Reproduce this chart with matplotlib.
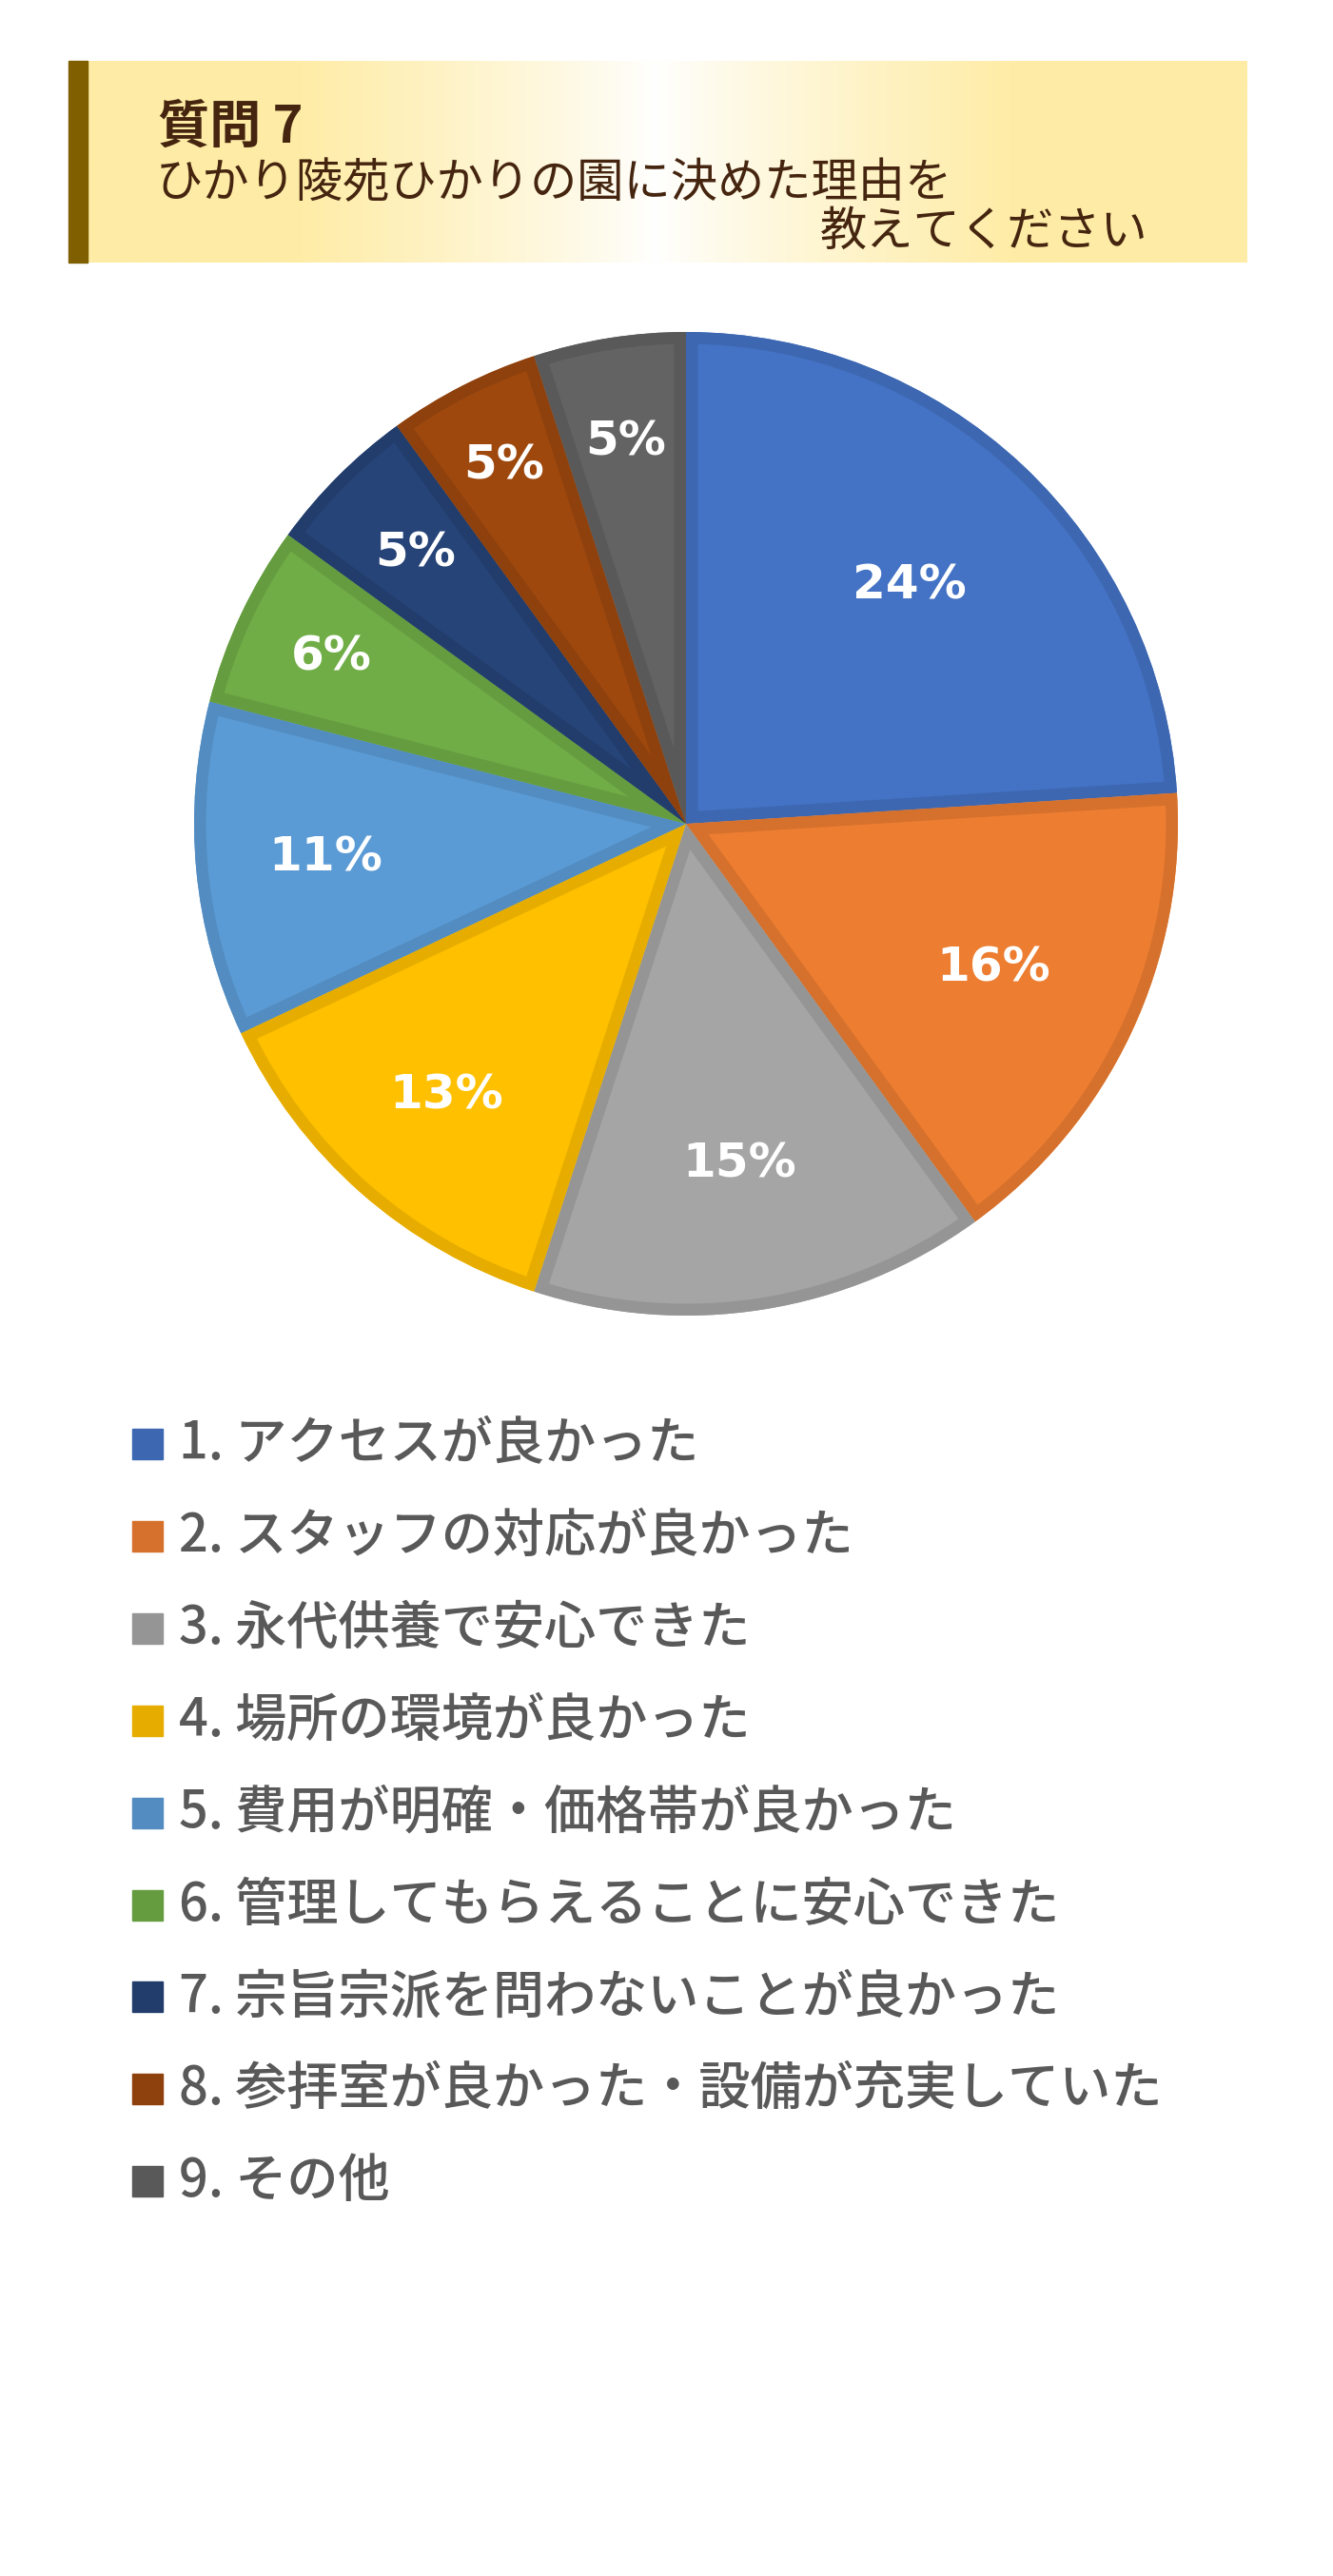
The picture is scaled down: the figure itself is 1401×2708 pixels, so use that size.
import matplotlib.pyplot as plt
from matplotlib.patches import Wedge
import numpy as np

# data
labels = ["1. アクセスが良かった", "2. スタッフの対応が良かった", "3. 永代供養で安心できた",
          "4. 場所の環境が良かった", "5. 費用が明確・価格帯が良かった",
          "6. 管理してもらえることに安心できた", "7. 宗旨宗派を問わないことが良かった",
          "8. 参拝室が良かった・設備が充実していた", "9. その他"]
values = [24, 16, 15, 13, 11, 6, 5, 5, 5]
colors = ["#4472C4", "#ED7D31", "#A5A5A5", "#FFC000", "#5B9BD5",
          "#70AD47", "#264478", "#9E480E", "#636363"]
title1 = "質問 7"
title2 = "ひかり陵苑ひかりの園に決めた理由を"
title3 = "教えてください"

# label radius (fraction of pie radius), like Excel best fit
label_r = [0.665, 0.69, 0.70, 0.737, 0.735, 0.797, 0.777, 0.817, 0.787]

W, H = 1401, 2708
fig = plt.figure(figsize=(W / 100, H / 100), dpi=100)
fig.patch.set_facecolor("white")

# full-figure axes in pixel coords (y down)
bg = fig.add_axes([0, 0, 1, 1])
bg.set_xlim(0, W)
bg.set_ylim(H, 0)
bg.axis("off")

# header box with horizontal gradient
x0, x1, y0, y1 = 92, 1311, 64, 276
t = np.linspace(-1, 1, 600) + 0.02
m = np.clip(np.abs(t) / 0.62, 0, 1) ** 0.85
yellow = np.array([254, 236, 166]) / 255
grad = (1 - m)[:, None] * np.ones(3) + m[:, None] * yellow
bg.imshow(grad[None, :, :], extent=[x0, x1, y1, y0], aspect="auto", zorder=1)
bg.add_patch(plt.Rectangle((72, y0), 20, y1 - y0, color="#7F5F00", zorder=2))

brown = "#45250F"
bg.text(166, 150, title1, fontsize=39, fontweight="bold", color=brown,
        family=["Noto Sans CJK JP", "DejaVu Sans"], va="baseline", zorder=3)
bg.text(164, 207, title2, fontsize=35.5, color=brown,
        family=["Noto Sans CJK JP"], va="baseline", zorder=3)
bg.text(1207, 258, title3, fontsize=35.5, color=brown, ha="right",
        family=["Noto Sans CJK JP"], va="baseline", zorder=3)

# pie
cx, cy, r = 721, 866, 517
ax = fig.add_axes([(cx - r) / W, 1 - (cy + r) / H, 2 * r / W, 2 * r / H])


def darker(c, f=0.9):
    rgb = np.array([int(c[i:i + 2], 16) for i in (1, 3, 5)]) * f / 255
    return tuple(rgb)


wedges, _ = ax.pie(values, colors=colors, startangle=90, counterclock=False,
                   radius=1, wedgeprops=dict(linewidth=0))
# inner border: thick stroke clipped to its own slice
for w, c in zip(wedges, colors):
    e = Wedge(w.center, w.r, w.theta1, w.theta2, fill=False,
              edgecolor=darker(c), linewidth=18)
    ax.add_patch(e)
    e.set_clip_path(w)

for w, v, lr in zip(wedges, values, label_r):
    ang = np.deg2rad((w.theta1 + w.theta2) / 2)
    ax.text(lr * np.cos(ang), lr * np.sin(ang), f"{v}%", ha="center", va="center",
            fontsize=36, fontweight="bold", color="white", family="DejaVu Sans")
ax.set_xlim(-1, 1)
ax.set_ylim(-1, 1)
ax.axis("off")

# legend
row0, step = 1518, 96.9
for i, (lab, c) in enumerate(zip(labels, colors)):
    yc = row0 + i * step
    bg.add_patch(plt.Rectangle((139, yc - 16), 32, 32, color=darker(c)))
    bg.text(188, yc + 16, lab, fontsize=39, color="#595959", fontweight="medium",
            family=["Noto Sans CJK JP", "DejaVu Sans"], va="baseline")

fig.savefig("out.png", dpi=100)
